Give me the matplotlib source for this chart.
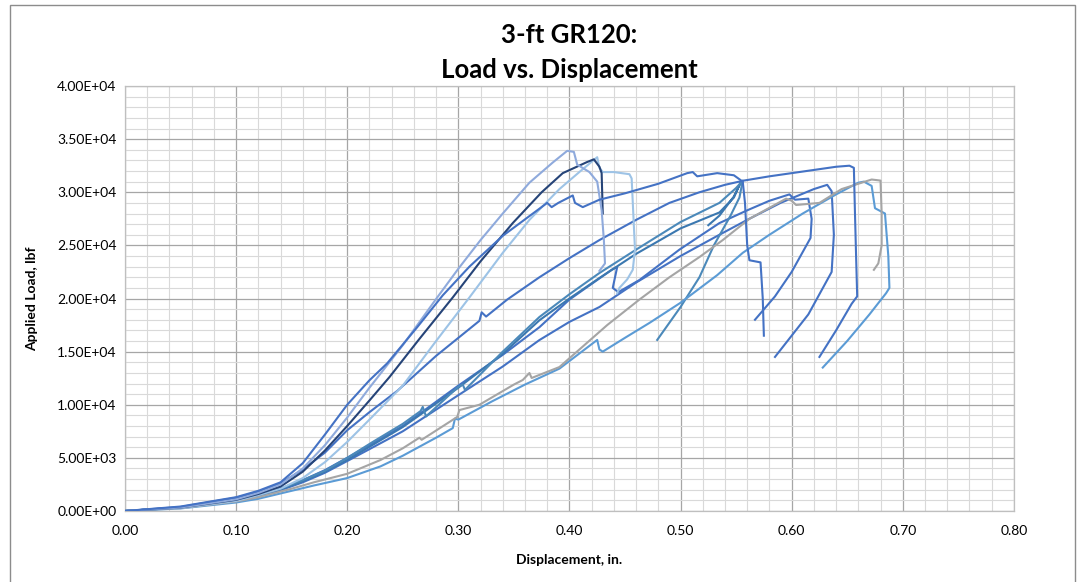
import matplotlib
matplotlib.use('Agg')
import matplotlib.pyplot as plt
from matplotlib.ticker import MultipleLocator, FuncFormatter
from matplotlib.patches import Rectangle

plt.rcParams['font.family'] = ['Lato', 'DejaVu Sans']

# specimen curves: displacement (in.) and load (lbf)
disp_a1 = [0, 0.05, 0.10, 0.12, 0.14, 0.16, 0.18, 0.20, 0.22, 0.236, 0.263, 0.286, 0.31, 0.34, 0.371,
           0.380, 0.384, 0.39, 0.403, 0.405, 0.412, 0.427, 0.45, 0.48, 0.506, 0.511, 0.515, 0.533, 0.548,
           0.556, 0.558, 0.560, 0.562, 0.572, 0.574, 0.575]
load_a1 = [0, 420, 1300, 1900, 2700, 4500, 7200, 10000, 12300, 13900, 17300, 20300, 23000, 25900, 28300,
           29000, 28600, 29000, 29700, 29000, 28600, 29300, 29900, 30800, 31800, 31900, 31500, 31800, 31600,
           31000, 29000, 25000, 23600, 23400, 20000, 16500]

disp_a2 = [0, 0.05, 0.10, 0.12, 0.14, 0.16, 0.18, 0.20, 0.22, 0.25, 0.281, 0.30, 0.32, 0.34, 0.364, 0.385,
           0.398, 0.404, 0.407, 0.418, 0.425, 0.429, 0.431, 0.432, 0.427]
load_a2 = [0, 330, 1100, 1700, 2500, 4000, 6200, 8800, 11600, 15600, 20100, 22800, 25500, 28000, 30900,
           32800, 33900, 33800, 32600, 31900, 31000, 28300, 25500, 23300, 22600]

disp_a3 = [0, 0.05, 0.10, 0.12, 0.14, 0.16, 0.18, 0.20, 0.22, 0.238, 0.265, 0.295, 0.32, 0.349, 0.375,
           0.394, 0.416, 0.422, 0.427, 0.429, 0.430]
load_a3 = [0, 320, 1050, 1600, 2300, 3700, 5700, 8000, 10400, 12600, 16200, 20100, 23500, 27100, 30000,
           31800, 32850, 33100, 32400, 31800, 28000]

disp_a4 = [0, 0.05, 0.10, 0.12, 0.14, 0.16, 0.18, 0.20, 0.22, 0.25, 0.28, 0.31, 0.34, 0.364, 0.391, 0.41,
           0.425, 0.427, 0.430, 0.44, 0.454, 0.456, 0.459, 0.457, 0.452, 0.445, 0.443]
load_a4 = [0, 280, 950, 1500, 2100, 3100, 4600, 6500, 8600, 11800, 16000, 20100, 24300, 27400, 30300,
           32000, 33300, 32300, 31900, 31900, 31700, 31300, 24600, 22700, 21800, 21000, 20500]

disp_m1 = [0, 0.05, 0.10, 0.12, 0.14, 0.16, 0.18, 0.20, 0.22, 0.245, 0.28, 0.319, 0.321, 0.325, 0.344,
           0.373, 0.40, 0.427, 0.46, 0.49, 0.517, 0.54, 0.557, 0.58, 0.60, 0.62, 0.64, 0.652, 0.656,
           0.657, 0.658, 0.659, 0.654, 0.64, 0.625]
load_m1 = [0, 380, 1250, 1800, 2600, 3900, 5500, 7600, 9300, 11300, 14600, 17900, 18700, 18300, 19900,
           22000, 23800, 25500, 27400, 29000, 30000, 30700, 31100, 31500, 31800, 32100, 32400, 32500, 32300,
           28000, 24000, 20200, 19500, 17000, 14500]

disp_t1 = [0, 0.05, 0.10, 0.12, 0.14, 0.16, 0.18, 0.20, 0.223, 0.25, 0.266, 0.268, 0.271, 0.30, 0.304,
           0.306, 0.34, 0.373, 0.40, 0.427, 0.46, 0.50, 0.535, 0.55, 0.556, 0.553, 0.545, 0.53, 0.517,
           0.50, 0.479]
load_t1 = [0, 330, 1050, 1500, 2100, 2900, 3800, 5000, 6500, 8200, 9400, 9800, 8900, 11700, 11900,
           11400, 15000, 18260, 20400, 22400, 24600, 27200, 29000, 30400, 31100, 29500, 27800, 25000, 22000,
           19200, 16100]

disp_t2 = [0, 0.05, 0.10, 0.12, 0.14, 0.16, 0.18, 0.20, 0.25, 0.30, 0.34, 0.373, 0.40, 0.427, 0.46, 0.50,
           0.535, 0.548, 0.554, 0.548, 0.535, 0.525]
load_t2 = [0, 320, 1000, 1450, 2050, 2800, 3700, 4800, 7900, 11600, 14800, 17950, 20000, 21930, 24200,
           26600, 28100, 29500, 30900, 29600, 27800, 26900]

disp_m2 = [0, 0.05, 0.10, 0.12, 0.14, 0.16, 0.18, 0.20, 0.25, 0.30, 0.34, 0.373, 0.40, 0.438, 0.443,
           0.439, 0.444, 0.463, 0.499, 0.535, 0.56, 0.58, 0.598, 0.603, 0.615, 0.618, 0.617, 0.60, 0.585,
           0.567]
load_m2 = [0, 330, 1050, 1500, 2100, 2900, 3850, 5000, 8000, 11800, 14700, 17300, 19900, 22700, 22970,
           21000, 20600, 21740, 24600, 27100, 28300, 29200, 29800, 29300, 29400, 27500, 25700, 22500, 20200,
           18000]

disp_m3 = [0, 0.05, 0.10, 0.12, 0.14, 0.16, 0.18, 0.20, 0.25, 0.30, 0.34, 0.373, 0.40, 0.427, 0.46, 0.50,
           0.535, 0.56, 0.59, 0.62, 0.632, 0.636, 0.638, 0.636, 0.615, 0.585]
load_m3 = [0, 300, 1000, 1400, 1950, 2700, 3600, 4700, 7500, 10900, 13600, 16090, 17800, 19200, 21500,
           24000, 26000, 27400, 29000, 30300, 30700, 30100, 26000, 22500, 18500, 14500]

disp_gray = [0, 0.05, 0.10, 0.12, 0.15, 0.17, 0.20, 0.23, 0.25, 0.265, 0.267, 0.299, 0.301, 0.319, 0.35,
             0.358, 0.364, 0.366, 0.391, 0.434, 0.463, 0.49, 0.517, 0.538, 0.562, 0.595, 0.600, 0.604,
             0.625, 0.645, 0.66, 0.672, 0.68, 0.681, 0.681, 0.678, 0.674]
load_gray = [0, 270, 900, 1300, 2100, 2700, 3500, 4800, 5900, 6900, 6700, 8850, 9500, 10000, 11900,
             12330, 12990, 12520, 13550, 17500, 19900, 22000, 23900, 25500, 27500, 29400, 29200, 28800,
             29000, 30300, 30800, 31200, 31100, 28000, 25000, 23300, 22700]

disp_lb = [0, 0.05, 0.10, 0.12, 0.15, 0.17, 0.20, 0.23, 0.25, 0.28, 0.295, 0.297, 0.30, 0.33, 0.36, 0.391,
           0.425, 0.427, 0.430, 0.45, 0.472, 0.50, 0.533, 0.556, 0.58, 0.61, 0.64, 0.66, 0.665, 0.672,
           0.675, 0.684, 0.687, 0.688, 0.685, 0.67, 0.65, 0.628]
load_lb = [0, 240, 800, 1150, 1900, 2400, 3100, 4200, 5200, 6900, 7800, 8700, 8600, 10300, 11900, 13400,
           16100, 15200, 15000, 16300, 17700, 19600, 22200, 24300, 26000, 28000, 29800, 30900, 31000, 30600,
           28500, 28000, 24000, 21000, 20500, 18500, 16000, 13500]

series = [
    (disp_m3, load_m3, '#4472C4'),
    (disp_m2, load_m2, '#4472C4'),
    (disp_t2, load_t2, '#3B78B0'),
    (disp_t1, load_t1, '#4B89BA'),
    (disp_lb, load_lb, '#5B9BD5'),
    (disp_gray, load_gray, '#A5A5A5'),
    (disp_m1, load_m1, '#4472C4'),
    (disp_a4, load_a4, '#9DC3E6'),
    (disp_a3, load_a3, '#264478'),
    (disp_a2, load_a2, '#8FAADC'),
    (disp_a1, load_a1, '#4472C4'),
]

fig = plt.figure(figsize=(10.84, 5.82), dpi=100)
ax = fig.add_axes([0.1153, 0.122, 0.82, 0.7302])

for d, l, c in series:
    ax.plot(d, l, color=c, lw=1.5, zorder=3)

ax.set_xlim(0, 0.8)
ax.set_ylim(0, 40000)
ax.xaxis.set_major_locator(MultipleLocator(0.1))
ax.xaxis.set_minor_locator(MultipleLocator(0.02))
ax.yaxis.set_major_locator(MultipleLocator(5000))
ax.yaxis.set_minor_locator(MultipleLocator(1000))
ax.xaxis.set_major_formatter(FuncFormatter(lambda v, p: '%.2f' % v))
ax.yaxis.set_major_formatter(FuncFormatter(lambda v, p: '%.2E' % v))
ax.grid(True, which='major', color='#A6A6A6', lw=0.9)
ax.grid(True, which='minor', color='#D9D9D9', lw=0.8)
ax.set_axisbelow(True)
ax.tick_params(which='both', length=0, labelsize=10, colors='#000000')
ax.tick_params(axis='x', pad=10)
ax.tick_params(axis='y', pad=6)
for s in ax.spines.values():
    s.set_color('#BFBFBF')
    s.set_linewidth(0.9)

ax.set_xlabel('Displacement, in.', fontsize=10, fontweight='bold', labelpad=12)
ax.set_ylabel('Applied Load, lbf', fontsize=10, fontweight='bold', labelpad=14)

fig.text(0.525, 0.94, '3-ft GR120:', ha='center', va='center', fontsize=18.5, fontweight='bold')
fig.text(0.525, 0.88, 'Load vs. Displacement', ha='center', va='center', fontsize=18.5, fontweight='bold')

fig.patches.append(Rectangle((0.0092, -0.02), 0.9825, 1.011, transform=fig.transFigure,
                             fill=False, edgecolor='#8C8C8C', lw=1.0))

fig.savefig('out.png', dpi=100)
